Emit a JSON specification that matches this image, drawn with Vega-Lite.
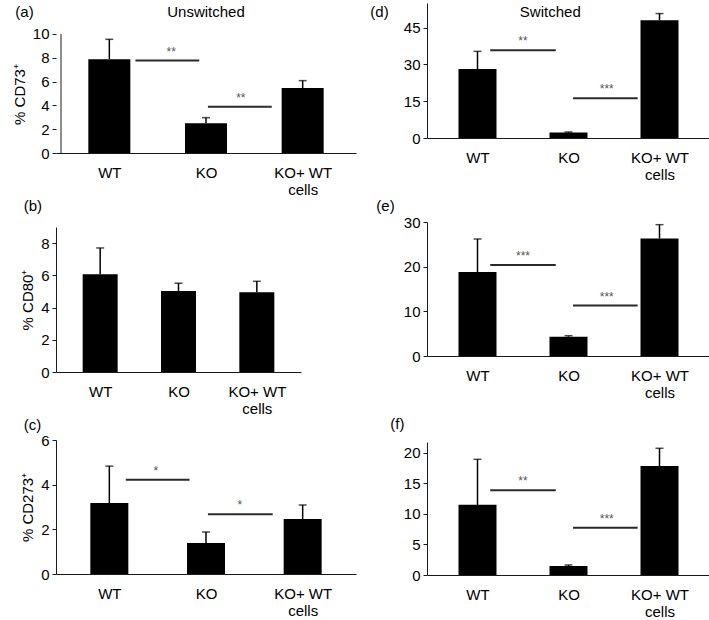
{
  "$schema": "https://vega.github.io/schema/vega-lite/v6.json",
  "padding": {"left": 12, "top": 3, "right": 0, "bottom": 0},
  "datasets": {
    "bars": [
      {"p": "a", "i": 0, "g": "WT", "mean": 7.87, "err": 9.55},
      {"p": "a", "i": 1, "g": "KO", "mean": 2.49, "err": 2.97},
      {"p": "a", "i": 2, "g": "KO+ WT cells", "mean": 5.46, "err": 6.08},
      {"p": "b", "i": 0, "g": "WT", "mean": 6.07, "err": 7.7},
      {"p": "b", "i": 1, "g": "KO", "mean": 5.03, "err": 5.51},
      {"p": "b", "i": 2, "g": "KO+ WT cells", "mean": 4.95, "err": 5.63},
      {"p": "c", "i": 0, "g": "WT", "mean": 3.18, "err": 4.83},
      {"p": "c", "i": 1, "g": "KO", "mean": 1.39, "err": 1.88},
      {"p": "c", "i": 2, "g": "KO+ WT cells", "mean": 2.46, "err": 3.09},
      {"p": "d", "i": 0, "g": "WT", "mean": 28.1, "err": 35.3},
      {"p": "d", "i": 1, "g": "KO", "mean": 2.2, "err": 2.45},
      {"p": "d", "i": 2, "g": "KO+ WT cells", "mean": 48.0, "err": 50.7},
      {"p": "e", "i": 0, "g": "WT", "mean": 18.8, "err": 26.2},
      {"p": "e", "i": 1, "g": "KO", "mean": 4.33, "err": 4.55},
      {"p": "e", "i": 2, "g": "KO+ WT cells", "mean": 26.3, "err": 29.4},
      {"p": "f", "i": 0, "g": "WT", "mean": 11.5, "err": 18.96},
      {"p": "f", "i": 1, "g": "KO", "mean": 1.48, "err": 1.64},
      {"p": "f", "i": 2, "g": "KO+ WT cells", "mean": 17.87, "err": 20.77}
    ],
    "sig": [
      {"p": "a", "x1": 0.27, "x2": 0.93, "mid": 0.64, "y": 7.76, "s": "**"},
      {"p": "a", "x1": 1.02, "x2": 1.68, "mid": 1.36, "y": 3.89, "s": "**"},
      {"p": "c", "x1": 0.17, "x2": 0.83, "mid": 0.48, "y": 4.22, "s": "*"},
      {"p": "c", "x1": 1.02, "x2": 1.69, "mid": 1.35, "y": 2.67, "s": "*"},
      {"p": "d", "x1": 0.14, "x2": 0.86, "mid": 0.5, "y": 35.7, "s": "**"},
      {"p": "d", "x1": 1.05, "x2": 1.76, "mid": 1.42, "y": 16.2, "s": "***"},
      {"p": "e", "x1": 0.14, "x2": 0.86, "mid": 0.5, "y": 20.4, "s": "***"},
      {"p": "e", "x1": 1.05, "x2": 1.76, "mid": 1.42, "y": 11.3, "s": "***"},
      {"p": "f", "x1": 0.14, "x2": 0.86, "mid": 0.5, "y": 13.9, "s": "**"},
      {"p": "f", "x1": 1.05, "x2": 1.76, "mid": 1.42, "y": 7.75, "s": "***"}
    ],
    "headers": [
      {"p": "a", "h": "Unswitched", "x": 1.0, "y": 11.85},
      {"p": "d", "h": "Switched", "x": 0.8, "y": 51.5}
    ]
  },
  "hconcat": [
    {
      "spacing": 2,
      "vconcat": [
        {
          "width": 300, "height": 150,
          "title": {"text": "(a)", "offset": -17, "dx": 3},
          "layer": [
            {"data": {"name": "bars"}, "transform": [{"filter": "datum.p == 'a'"}],
             "encoding": {
               "x": {"field": "i", "type": "quantitative", "scale": {"domain": [-0.5, 2.5], "nice": false}, "axis": {"values": [0, 1, 2], "labelExpr": "datum.value == 0 ? 'WT' : datum.value == 1 ? 'KO' : ['KO+ WT', 'cells']", "title": null}},
               "y": {"field": "mean", "type": "quantitative", "scale": {"domain": [0, 12.6], "nice": false}, "axis": {"values": [0, 2, 4, 6, 8, 10], "tickCount": 20, "format": "d", "domain": false, "title": "% CD73⁺", "titleY": 91}}
             },
             "layer": [
               {"mark": {"type": "bar", "width": 42, "color": "#000"}},
               {"mark": {"type": "rule", "color": "#000", "strokeWidth": 1.5}, "encoding": {"y2": {"field": "err"}}},
               {"mark": {"type": "tick", "orient": "horizontal", "size": 8, "thickness": 1.5, "color": "#000"}, "encoding": {"y": {"field": "err", "type": "quantitative"}}}
             ]},
            {"data": {"values": [{"lo": 0, "hi": 10, "edge": -0.5}]},
             "mark": {"type": "rule", "color": "#1a1a1a", "strokeWidth": 1},
             "encoding": {"x": {"field": "edge", "type": "quantitative", "scale": {"domain": [-0.5, 2.5], "nice": false}}, "y": {"field": "lo", "type": "quantitative", "scale": {"domain": [0, 12.6], "nice": false}}, "y2": {"field": "hi"}}},
            {"data": {"name": "sig"}, "transform": [{"filter": "datum.p == 'a'"}],
             "layer": [
               {"mark": {"type": "rule", "color": "#2a2a2a", "strokeWidth": 2}, "encoding": {"x": {"field": "x1", "type": "quantitative", "scale": {"domain": [-0.5, 2.5], "nice": false}}, "x2": {"field": "x2"}, "y": {"field": "y", "type": "quantitative", "scale": {"domain": [0, 12.6], "nice": false}}}},
               {"mark": {"type": "text", "fontSize": 12, "color": "#555", "dy": -5, "baseline": "alphabetic"}, "encoding": {"x": {"field": "mid", "type": "quantitative", "scale": {"domain": [-0.5, 2.5], "nice": false}}, "y": {"field": "y", "type": "quantitative", "scale": {"domain": [0, 12.6], "nice": false}}, "text": {"field": "s"}}}
             ]},
            {"data": {"name": "headers"}, "transform": [{"filter": "datum.p == 'a'"}],
             "mark": {"type": "text", "fontSize": 15, "color": "#000", "baseline": "middle", "align": "center"},
             "encoding": {"x": {"field": "x", "type": "quantitative", "scale": {"domain": [-0.5, 2.5], "nice": false}}, "y": {"field": "y", "type": "quantitative", "scale": {"domain": [0, 12.6], "nice": false}}, "text": {"field": "h"}}}
          ]
        },
        {
          "width": 245, "height": 145,
          "title": {"text": "(b)", "offset": 13, "dx": 3},
          "layer": [
            {"data": {"name": "bars"}, "transform": [{"filter": "datum.p == 'b'"}],
             "encoding": {
               "x": {"field": "i", "type": "quantitative", "scale": {"domain": [-0.5, 2.5], "nice": false}, "axis": {"values": [0, 1, 2], "labelExpr": "datum.value == 0 ? 'WT' : datum.value == 1 ? 'KO' : ['KO+ WT', 'cells']", "title": null}},
               "y": {"field": "mean", "type": "quantitative", "scale": {"domain": [0, 9], "nice": false}, "axis": {"values": [0, 2, 4, 6, 8], "tickCount": 20, "format": "d", "title": "% CD80⁺"}}
             },
             "layer": [
               {"mark": {"type": "bar", "width": 35, "color": "#000"}},
               {"mark": {"type": "rule", "color": "#000", "strokeWidth": 1.5}, "encoding": {"y2": {"field": "err"}}},
               {"mark": {"type": "tick", "orient": "horizontal", "size": 8, "thickness": 1.5, "color": "#000"}, "encoding": {"y": {"field": "err", "type": "quantitative"}}}
             ]}
          ]
        },
        {
          "width": 300, "height": 134,
          "title": {"text": "(c)", "offset": 0, "dx": 3},
          "layer": [
            {"data": {"name": "bars"}, "transform": [{"filter": "datum.p == 'c'"}],
             "encoding": {
               "x": {"field": "i", "type": "quantitative", "scale": {"domain": [-0.5, 2.5], "nice": false}, "axis": {"values": [0, 1, 2], "labelExpr": "datum.value == 0 ? 'WT' : datum.value == 1 ? 'KO' : ['KO+ WT', 'cells']", "title": null}},
               "y": {"field": "mean", "type": "quantitative", "scale": {"domain": [0, 6], "nice": false}, "axis": {"values": [0, 2, 4, 6], "tickCount": 20, "format": "d", "title": "% CD273⁺"}}
             },
             "layer": [
               {"mark": {"type": "bar", "width": 38, "color": "#000"}},
               {"mark": {"type": "rule", "color": "#000", "strokeWidth": 1.5}, "encoding": {"y2": {"field": "err"}}},
               {"mark": {"type": "tick", "orient": "horizontal", "size": 8, "thickness": 1.5, "color": "#000"}, "encoding": {"y": {"field": "err", "type": "quantitative"}}}
             ]},
            {"data": {"name": "sig"}, "transform": [{"filter": "datum.p == 'c'"}],
             "layer": [
               {"mark": {"type": "rule", "color": "#2a2a2a", "strokeWidth": 2}, "encoding": {"x": {"field": "x1", "type": "quantitative", "scale": {"domain": [-0.5, 2.5], "nice": false}}, "x2": {"field": "x2"}, "y": {"field": "y", "type": "quantitative", "scale": {"domain": [0, 6], "nice": false}}}},
               {"mark": {"type": "text", "fontSize": 12, "color": "#555", "dy": -5, "baseline": "alphabetic"}, "encoding": {"x": {"field": "mid", "type": "quantitative", "scale": {"domain": [-0.5, 2.5], "nice": false}}, "y": {"field": "y", "type": "quantitative", "scale": {"domain": [0, 6], "nice": false}}, "text": {"field": "s"}}}
             ]}
          ]
        }
      ]
    },
    {
      "spacing": 17,
      "vconcat": [
        {
          "width": 283, "height": 135,
          "title": {"text": "(d)", "offset": -17, "dx": -33},
          "layer": [
            {"data": {"name": "bars"}, "transform": [{"filter": "datum.p == 'd'"}],
             "encoding": {
               "x": {"field": "i", "type": "quantitative", "scale": {"domain": [-0.5, 2.5], "nice": false}, "axis": {"values": [0, 1, 2], "labelExpr": "datum.value == 0 ? 'WT' : datum.value == 1 ? 'KO' : ['KO+ WT', 'cells']", "title": null}},
               "y": {"field": "mean", "type": "quantitative", "scale": {"domain": [0, 55], "nice": false}, "axis": {"values": [0, 15, 30, 45], "tickCount": 20, "format": "d", "title": null}}
             },
             "layer": [
               {"mark": {"type": "bar", "width": 38, "color": "#000"}},
               {"mark": {"type": "rule", "color": "#000", "strokeWidth": 1.5}, "encoding": {"y2": {"field": "err"}}},
               {"mark": {"type": "tick", "orient": "horizontal", "size": 8, "thickness": 1.5, "color": "#000"}, "encoding": {"y": {"field": "err", "type": "quantitative"}}}
             ]},
            {"data": {"name": "sig"}, "transform": [{"filter": "datum.p == 'd'"}],
             "layer": [
               {"mark": {"type": "rule", "color": "#2a2a2a", "strokeWidth": 2}, "encoding": {"x": {"field": "x1", "type": "quantitative", "scale": {"domain": [-0.5, 2.5], "nice": false}}, "x2": {"field": "x2"}, "y": {"field": "y", "type": "quantitative", "scale": {"domain": [0, 55], "nice": false}}}},
               {"mark": {"type": "text", "fontSize": 12, "color": "#555", "dy": -5, "baseline": "alphabetic"}, "encoding": {"x": {"field": "mid", "type": "quantitative", "scale": {"domain": [-0.5, 2.5], "nice": false}}, "y": {"field": "y", "type": "quantitative", "scale": {"domain": [0, 55], "nice": false}}, "text": {"field": "s"}}}
             ]},
            {"data": {"name": "headers"}, "transform": [{"filter": "datum.p == 'd'"}],
             "mark": {"type": "text", "fontSize": 15, "color": "#000", "baseline": "middle", "align": "center"},
             "encoding": {"x": {"field": "x", "type": "quantitative", "scale": {"domain": [-0.5, 2.5], "nice": false}}, "y": {"field": "y", "type": "quantitative", "scale": {"domain": [0, 55], "nice": false}}, "text": {"field": "h"}}}
          ]
        },
        {
          "width": 283, "height": 134,
          "title": {"text": "(e)", "offset": 1, "dx": -27},
          "layer": [
            {"data": {"name": "bars"}, "transform": [{"filter": "datum.p == 'e'"}],
             "encoding": {
               "x": {"field": "i", "type": "quantitative", "scale": {"domain": [-0.5, 2.5], "nice": false}, "axis": {"values": [0, 1, 2], "labelExpr": "datum.value == 0 ? 'WT' : datum.value == 1 ? 'KO' : ['KO+ WT', 'cells']", "title": null}},
               "y": {"field": "mean", "type": "quantitative", "scale": {"domain": [0, 30], "nice": false}, "axis": {"values": [0, 10, 20, 30], "tickCount": 20, "format": "d", "title": null}}
             },
             "layer": [
               {"mark": {"type": "bar", "width": 38, "color": "#000"}},
               {"mark": {"type": "rule", "color": "#000", "strokeWidth": 1.5}, "encoding": {"y2": {"field": "err"}}},
               {"mark": {"type": "tick", "orient": "horizontal", "size": 8, "thickness": 1.5, "color": "#000"}, "encoding": {"y": {"field": "err", "type": "quantitative"}}}
             ]},
            {"data": {"name": "sig"}, "transform": [{"filter": "datum.p == 'e'"}],
             "layer": [
               {"mark": {"type": "rule", "color": "#2a2a2a", "strokeWidth": 2}, "encoding": {"x": {"field": "x1", "type": "quantitative", "scale": {"domain": [-0.5, 2.5], "nice": false}}, "x2": {"field": "x2"}, "y": {"field": "y", "type": "quantitative", "scale": {"domain": [0, 30], "nice": false}}}},
               {"mark": {"type": "text", "fontSize": 12, "color": "#555", "dy": -5, "baseline": "alphabetic"}, "encoding": {"x": {"field": "mid", "type": "quantitative", "scale": {"domain": [-0.5, 2.5], "nice": false}}, "y": {"field": "y", "type": "quantitative", "scale": {"domain": [0, 30], "nice": false}}, "text": {"field": "s"}}}
             ]}
          ]
        },
        {
          "width": 283, "height": 133,
          "title": {"text": "(f)", "offset": 10, "dx": -13},
          "layer": [
            {"data": {"name": "bars"}, "transform": [{"filter": "datum.p == 'f'"}],
             "encoding": {
               "x": {"field": "i", "type": "quantitative", "scale": {"domain": [-0.5, 2.5], "nice": false}, "axis": {"values": [0, 1, 2], "labelExpr": "datum.value == 0 ? 'WT' : datum.value == 1 ? 'KO' : ['KO+ WT', 'cells']", "title": null}},
               "y": {"field": "mean", "type": "quantitative", "scale": {"domain": [0, 21.8], "nice": false}, "axis": {"values": [0, 5, 10, 15, 20], "tickCount": 20, "format": "d", "title": null}}
             },
             "layer": [
               {"mark": {"type": "bar", "width": 38, "color": "#000"}},
               {"mark": {"type": "rule", "color": "#000", "strokeWidth": 1.5}, "encoding": {"y2": {"field": "err"}}},
               {"mark": {"type": "tick", "orient": "horizontal", "size": 8, "thickness": 1.5, "color": "#000"}, "encoding": {"y": {"field": "err", "type": "quantitative"}}}
             ]},
            {"data": {"name": "sig"}, "transform": [{"filter": "datum.p == 'f'"}],
             "layer": [
               {"mark": {"type": "rule", "color": "#2a2a2a", "strokeWidth": 2}, "encoding": {"x": {"field": "x1", "type": "quantitative", "scale": {"domain": [-0.5, 2.5], "nice": false}}, "x2": {"field": "x2"}, "y": {"field": "y", "type": "quantitative", "scale": {"domain": [0, 21.8], "nice": false}}}},
               {"mark": {"type": "text", "fontSize": 12, "color": "#555", "dy": -5, "baseline": "alphabetic"}, "encoding": {"x": {"field": "mid", "type": "quantitative", "scale": {"domain": [-0.5, 2.5], "nice": false}}, "y": {"field": "y", "type": "quantitative", "scale": {"domain": [0, 21.8], "nice": false}}, "text": {"field": "s"}}}
             ]}
          ]
        }
      ]
    }
  ],
  "spacing": 14,
  "config": {
    "font": "Liberation Sans",
    "view": {"stroke": null},
    "axis": {"grid": false, "domainColor": "#1a1a1a", "tickColor": "#1a1a1a", "labelColor": "#000", "titleColor": "#000", "labelFontSize": 15, "titleFontSize": 15, "titleFontWeight": "normal", "labelFont": "Liberation Sans", "titleFont": "Liberation Sans"},
    "axisX": {"ticks": false, "labelPadding": 12, "labelAngle": 0, "labelLineHeight": 17, "labelOverlap": false, "labelFlush": false},
    "axisY": {"tickSize": 4, "labelPadding": 3, "titlePadding": 5, "labelOverlap": false},
    "title": {"fontSize": 15, "fontWeight": "normal", "anchor": "start", "frame": "bounds", "color": "#000", "font": "Liberation Sans"}
  }
}
